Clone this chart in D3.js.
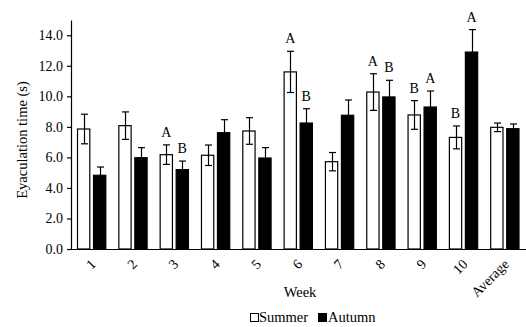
<!DOCTYPE html>
<html><head><meta charset="utf-8">
<script src="https://cdn.jsdelivr.net/npm/d3@7"></script>
<style>body{margin:0;background:#fff}svg{display:block}</style>
</head><body><svg id="c" width="526" height="327"></svg>
<script>
const weeks = ["1","2","3","4","5","6","7","8","9","10","Average"];
const seriesNames = ["Summer","Autumn"];
const summer = [7.86,8.08,6.18,6.14,7.73,11.6,5.72,10.28,8.78,7.31,7.97];
const summerErr = [0.97,0.9,0.64,0.67,0.87,1.35,0.6,1.2,0.94,0.75,0.28];
const autumn = [4.83,5.98,5.2,7.62,5.96,8.25,8.76,9.96,9.3,12.9,7.88];
const autumnErr = [0.54,0.66,0.56,0.85,0.68,0.94,1.0,1.09,1.05,1.47,0.31];
const summerLetters = ["","","A","","","A","","A","B","B",""];
const autumnLetters = ["","","B","","","B","","B","A","A",""];
const yTicks = [0,2,4,6,8,10,12,14];

const FONT = '"Liberation Serif", "Times New Roman", Times, serif';
const svg = d3.select("#c");
const x0 = d3.scaleBand().domain(weeks).range([71,525.5]).padding(0);
const x1 = d3.scaleBand().domain(seriesNames).range([0,x0.bandwidth()]).paddingInner(0.17).paddingOuter(0.376);
const y = d3.scaleLinear().domain([0,15]).range([249,20]);

const rows = [];
weeks.forEach((w,i)=>{
  rows.push({w, s:"Summer", v:summer[i], e:summerErr[i], l:summerLetters[i]});
  rows.push({w, s:"Autumn", v:autumn[i], e:autumnErr[i], l:autumnLetters[i]});
});

function errBar(g,d){
  const cx = Math.round(x0(d.w)+x1(d.s)+x1.bandwidth()/2)+0.5;
  const t = y(d.v+d.e), b = y(d.v-d.e);
  g.append("line").attr("x1",cx).attr("x2",cx).attr("y1",t).attr("y2",b);
  g.append("line").attr("x1",cx-3.5).attr("x2",cx+3.5).attr("y1",t).attr("y2",t);
  g.append("line").attr("x1",cx-3.5).attr("x2",cx+3.5).attr("y1",b).attr("y2",b);
}

// autumn error bars behind black bars
const eg = svg.append("g").attr("stroke","#000").attr("stroke-width",1.2);
rows.filter(d=>d.s==="Autumn").forEach(d=>errBar(eg,d));

// bars
svg.append("g").selectAll("rect").data(rows).join("rect")
  .attr("x",d=>x0(d.w)+x1(d.s)+0.5)
  .attr("width",x1.bandwidth()-1)
  .attr("y",d=>y(d.v))
  .attr("height",d=>y(0)-y(d.v))
  .attr("fill",d=>d.s==="Summer"?"#fff":"#000")
  .attr("stroke","#000").attr("stroke-width",1.2);

// summer error bars on top
const eg2 = svg.append("g").attr("stroke","#000").attr("stroke-width",1.2);
rows.filter(d=>d.s==="Summer").forEach(d=>errBar(eg2,d));

// letters
svg.append("g").selectAll("text").data(rows.filter(d=>d.l)).join("text")
  .attr("x",d=>x0(d.w)+x1(d.s)+x1.bandwidth()/2)
  .attr("y",d=>y(d.v+d.e)-8)
  .attr("text-anchor","middle").style("font-family",FONT).style("font-size","14px").text(d=>d.l);

// y axis
const ya = svg.append("g").attr("transform","translate(71,0)")
  .call(d3.axisLeft(y).tickValues(yTicks).tickFormat(d3.format(".1f")).tickSize(4).tickSizeOuter(0));
ya.selectAll("text").style("font-family",FONT).style("font-size","14px").attr("x",-8).attr("fill","#000");
ya.selectAll("line,path").attr("stroke","#000").attr("stroke-width",1.2);

// x axis
const xa = svg.append("g").attr("transform","translate(0,249)")
  .call(d3.axisBottom(x0).tickSize(0).tickSizeOuter(0));
xa.select("path").remove();
svg.append("line").attr("x1",67).attr("x2",526).attr("y1",249.5).attr("y2",249.5).attr("stroke","#000").attr("stroke-width",1.2);
xa.selectAll(".tick text").style("font-family",FONT).style("font-size","14px").attr("fill","#000")
  .attr("text-anchor","end").attr("dy",0).attr("y",0)
  .attr("transform","translate(5,16) rotate(-45)");

// axis titles
svg.append("text").attr("transform","translate(27,140) rotate(-90)").attr("text-anchor","middle")
  .style("font-family",FONT).style("font-size","14.5px").text("Eyaculation time (s)");
svg.append("text").attr("x",300).attr("y",297).attr("text-anchor","middle")
  .style("font-family",FONT).style("font-size","14.5px").text("Week");

// legend
const lg = svg.append("g");
lg.append("rect").attr("x",250.5).attr("y",313.5).attr("width",8).attr("height",8).attr("fill","none").attr("stroke","#000").attr("stroke-width",1);
lg.append("text").attr("x",259).attr("y",322).style("font-family",FONT).style("font-size","14.5px").text(seriesNames[0]);
lg.append("rect").attr("x",318).attr("y",313).attr("width",9).attr("height",9).attr("fill","#000");
lg.append("text").attr("x",328).attr("y",322).style("font-family",FONT).style("font-size","14.5px").text(seriesNames[1]);
</script></body></html>
